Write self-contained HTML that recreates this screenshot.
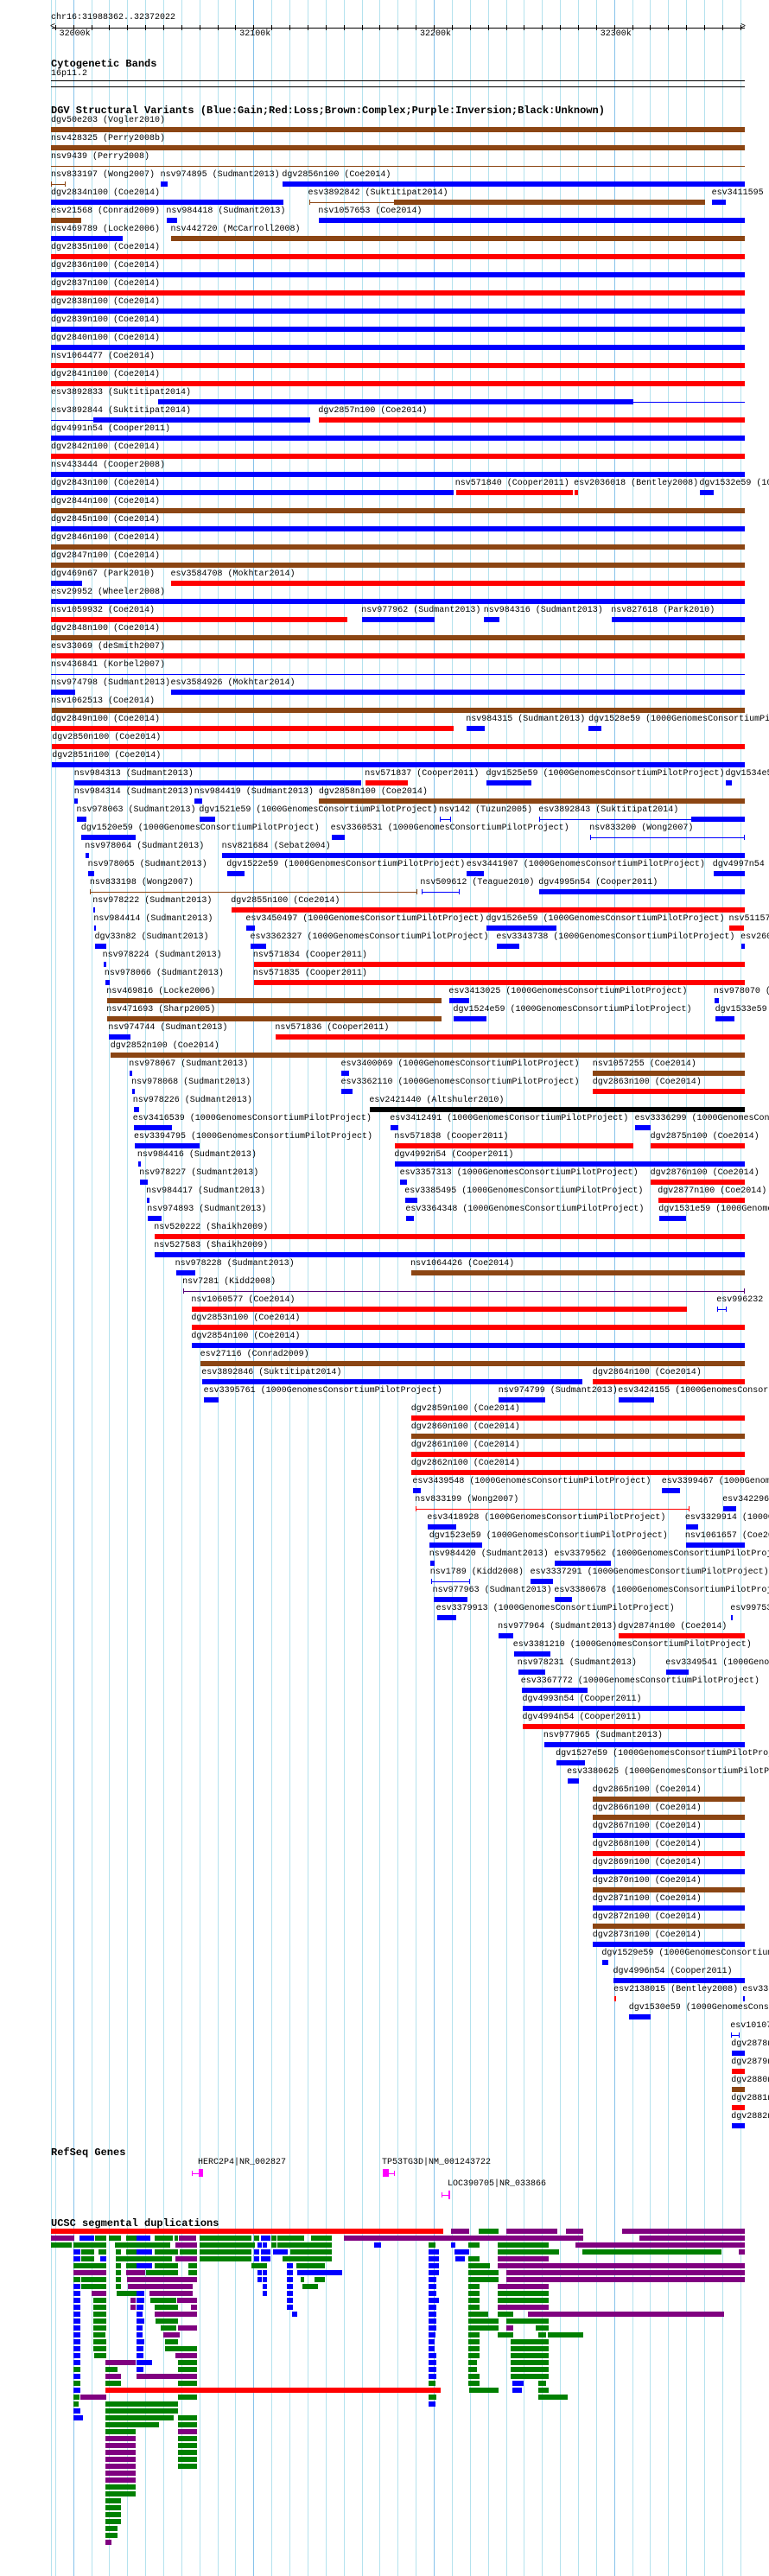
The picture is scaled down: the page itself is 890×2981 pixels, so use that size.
<!DOCTYPE html>
<html><head><meta charset="utf-8">
<style>
html,body{margin:0;padding:0;background:#fff;overflow:hidden;width:890px;height:2981px;}
body{font-family:"Liberation Mono","DejaVu Sans Mono",monospace;color:#000;}
#root{position:relative;width:890px;height:2981px;overflow:hidden;}
.g{position:absolute;top:0;width:1px;height:2981px;background:#b4e2ee;}
.gm{background:#86c2ea;}
.t{position:absolute;font-size:10px;line-height:12px;white-space:nowrap;}
.h{position:absolute;font-size:12px;line-height:14px;font-weight:bold;white-space:nowrap;}
.b{position:absolute;height:6px;}
.l{position:absolute;height:1px;}
.k{position:absolute;width:1px;height:6px;}
</style></head>
<body>
<div id="root"></div>
<script>
var S=890/1568, H='';
function d(cls,x,y,w,h,c,txt){H+='<div class="'+cls+'" style="left:'+x.toFixed(1)+'px;top:'+y.toFixed(1)+'px;'+(w!=null?'width:'+w.toFixed(1)+'px;':'')+(h!=null?'height:'+h+'px;':'')+(c?'background:'+c+';':'')+'">'+(txt||'')+'</div>';}
d('g',59,0,null,null,null);
for(var k=-1;k<=37;k++){var x=84.6+20.87*k;if(x<60||x>863)continue;H+='<div class="g'+(k%10==0?' gm':'')+'" style="left:'+x.toFixed(1)+'px"></div>';}
d('t',59,15,null,null,null,'chr16:31988362..32372022');
d('l',60,32,802,null,'#000');
H+='<div class="t" style="left:58px;top:26px">&lt;</div><div class="t" style="left:857px;top:26px">&gt;</div>';
for(var k=-1;k<=37;k++){var x=84.6+20.87*k;if(x<62||x>860)continue;d('k',x,29,null,null,'#000');}
['32000k','32100k','32200k','32300k'].forEach(function(s,i){d('t',84.6+208.7*i-16,34,null,null,null,s);});
d('h',59,67,null,null,null,'Cytogenetic Bands');
d('t',59,80,null,null,null,'16p11.2');
d('l',59,93,803,null,'#000');d('l',59,100,803,null,'#000');
d('h',59,121,null,null,null,'DGV Structural Variants (Blue:Gain;Red:Loss;Brown:Complex;Purple:Inversion;Black:Unknown)');
var C={B:'#0000ff',R:'#ff0000',N:'#8b4513',K:'#000000',P:'#550077'};
var G='1000GenomesConsortiumPilotProject';
var D=[
[0,104,"dgv50e203 (Vogler2010)","N",104,1519],
[1,104,"nsv428325 (Perry2008b)","N",104,1519],
[2,104,"nsv9439 (Perry2008)","N",104,1519,"l"],
[3,104,"nsv833197 (Wong2007)","N",104,134,"t"],[3,327,"nsv974895 (Sudmant2013)","B",328,342],[3,575,"dgv2856n100 (Coe2014)","B",576,1519],
[4,104,"dgv2834n100 (Coe2014)","B",104,578],[4,628,"esv3892842 (Suktitipat2014)","N",630,805,"t"],[4,0,"","N",805,1438],[4,1451,"esv3411595","B",1452,1480],
[5,104,"esv21568 (Conrad2009)","N",104,166],[5,339,"nsv984418 (Sudmant2013)","B",340,361],[5,649,"nsv1057653 (Coe2014)","B",650,1519],
[6,104,"nsv469789 (Locke2006)","B",104,250],[6,348,"nsv442720 (McCarroll2008)","N",349,1519],
[7,104,"dgv2835n100 (Coe2014)","R",104,1519],
[8,104,"dgv2836n100 (Coe2014)","B",104,1519],
[9,104,"dgv2837n100 (Coe2014)","R",104,1519],
[10,104,"dgv2838n100 (Coe2014)","B",104,1519],
[11,104,"dgv2839n100 (Coe2014)","B",104,1519],
[12,104,"dgv2840n100 (Coe2014)","B",104,1519],
[13,104,"nsv1064477 (Coe2014)","R",104,1519],
[14,104,"dgv2841n100 (Coe2014)","R",104,1519],
[15,104,"esv3892833 (Suktitipat2014)","B",322,1519,"l"],[15,0,"","B",322,1291],
[16,104,"esv3892844 (Suktitipat2014)","B",104,190,"l"],[16,0,"","B",190,632],[16,649,"dgv2857n100 (Coe2014)","R",650,1519],
[17,104,"dgv4991n54 (Cooper2011)","B",104,1519],
[18,104,"dgv2842n100 (Coe2014)","R",104,1519],
[19,104,"nsv433444 (Cooper2008)","B",104,1519],
[20,104,"dgv2843n100 (Coe2014)","B",104,925],[20,928,"nsv571840 (Cooper2011)","R",930,1168],[20,1170,"esv2036018 (Bentley2008)","R",1172,1178],[20,1426,"dgv1532e59 (G)","B",1427,1455],
[21,104,"dgv2844n100 (Coe2014)","N",104,1519],
[22,104,"dgv2845n100 (Coe2014)","B",104,1519],
[23,104,"dgv2846n100 (Coe2014)","N",104,1519],
[24,104,"dgv2847n100 (Coe2014)","N",104,1519],
[25,104,"dgv469n67 (Park2010)","B",104,167],[25,348,"esv3584708 (Mokhtar2014)","R",349,1519],
[26,104,"esv29952 (Wheeler2008)","B",104,1519],
[27,104,"nsv1059932 (Coe2014)","R",104,708],[27,737,"nsv977962 (Sudmant2013)","B",738,886],[27,986,"nsv984316 (Sudmant2013)","B",987,1018],[27,1246,"nsv827618 (Park2010)","B",1247,1519],
[28,104,"dgv2848n100 (Coe2014)","N",104,1519],
[29,104,"esv33069 (deSmith2007)","R",104,1519],
[30,104,"nsv436841 (Korbel2007)","B",104,1519,"l"],
[31,104,"nsv974798 (Sudmant2013)","B",104,153],[31,348,"esv3584926 (Mokhtar2014)","B",349,1519],
[32,104,"nsv1062513 (Coe2014)","N",106,1519],
[33,104,"dgv2849n100 (Coe2014)","R",104,925],[33,950,"nsv984315 (Sudmant2013)","B",951,988],[33,1200,"dgv1528e59 (G)","B",1200,1226],
[34,106,"dgv2850n100 (Coe2014)","R",106,1519],
[35,106,"dgv2851n100 (Coe2014)","B",106,1519],
[36,151,"nsv984313 (Sudmant2013)","B",151,736],[36,744,"nsv571837 (Cooper2011)","R",745,832],[36,991,"dgv1525e59 (G)","B",992,1084],[36,1479,"dgv1534e59 (G)","B",1480,1492],
[37,151,"nsv984314 (Sudmant2013)","B",152,158],[37,396,"nsv984419 (Sudmant2013)","B",396,412],[37,650,"dgv2858n100 (Coe2014)","N",650,1519],
[38,156,"nsv978063 (Sudmant2013)","B",156,176],[38,406,"dgv1521e59 (G)","B",407,439],[38,895,"nsv142 (Tuzun2005)","B",896,920,"t"],[38,1098,"esv3892843 (Suktitipat2014)","B",1100,1411,"t"],[38,0,"","B",1411,1519],
[39,165,"dgv1520e59 (G)","B",166,277],[39,674,"esv3360531 (G)","B",676,703],[39,1202,"nsv833200 (Wong2007)","B",1204,1519,"t"],
[40,173,"nsv978064 (Sudmant2013)","B",175,181],[40,452,"nsv821684 (Sebat2004)","B",453,1519],
[41,179,"nsv978065 (Sudmant2013)","B",180,192],[41,462,"dgv1522e59 (G)","B",463,499],[41,951,"esv3441907 (G)","B",951,986],[41,1453,"dgv4997n54 (Cooper2011)","B",1455,1519],
[42,183,"nsv833198 (Wong2007)","N",184,850,"t"],[42,857,"nsv509612 (Teague2010)","B",859,938,"t"],[42,1098,"dgv4995n54 (Cooper2011)","B",1099,1519],
[43,189,"nsv978222 (Sudmant2013)","B",190,194],[43,471,"dgv2855n100 (Coe2014)","R",472,1519],
[44,191,"nsv984414 (Sudmant2013)","B",192,195],[44,501,"esv3450497 (G)","B",502,520],[44,991,"dgv1526e59 (G)","B",992,1135],[44,1486,"nsv511575 (Itsara2009)","R",1487,1517],
[45,193,"dgv33n82 (Sudmant2013)","B",194,217],[45,510,"esv3362327 (G)","B",511,543],[45,1012,"esv3343738 (G)","B",1013,1058],[45,1510,"esv2601","B",1512,1519],
[46,209,"nsv978224 (Sudmant2013)","B",211,216],[46,516,"nsv571834 (Cooper2011)","R",517,1519],
[47,213,"nsv978066 (Sudmant2013)","B",215,223],[47,516,"nsv571835 (Cooper2011)","R",517,1519],
[48,217,"nsv469816 (Locke2006)","N",218,900],[48,915,"esv3413025 (G)","B",916,957],[48,1455,"nsv978070 (Sudmant2013)","B",1457,1466],
[49,217,"nsv471693 (Sharp2005)","N",218,900],[49,924,"dgv1524e59 (G)","B",925,992],[49,1458,"dgv1533e59 (G)","B",1459,1498],
[50,221,"nsv974744 (Sudmant2013)","B",222,266],[50,561,"nsv571836 (Cooper2011)","R",562,1519],
[51,225,"dgv2852n100 (Coe2014)","N",226,1519],
[52,263,"nsv978067 (Sudmant2013)","B",264,270],[52,695,"esv3400069 (G)","B",696,712],[52,1208,"nsv1057255 (Coe2014)","N",1209,1519],
[53,268,"nsv978068 (Sudmant2013)","B",270,274],[53,695,"esv3362110 (G)","B",696,719],[53,1208,"dgv2863n100 (Coe2014)","R",1209,1519],
[54,271,"nsv978226 (Sudmant2013)","B",273,284],[54,753,"esv2421440 (Altshuler2010)","K",754,1519],
[55,271,"esv3416539 (G)","B",273,351],[55,795,"esv3412491 (G)","B",796,812],[55,1294,"esv3336299 (G)","B",1295,1327],
[56,273,"esv3394795 (G)","B",275,407],[56,804,"nsv571838 (Cooper2011)","R",805,1291],[56,1326,"dgv2875n100 (Coe2014)","R",1327,1519],
[57,280,"nsv984416 (Sudmant2013)","B",282,287],[57,804,"dgv4992n54 (Cooper2011)","B",805,1519],
[58,284,"nsv978227 (Sudmant2013)","B",285,301],[58,815,"esv3357313 (G)","B",816,830],[58,1326,"dgv2876n100 (Coe2014)","R",1327,1519],
[59,298,"nsv984417 (Sudmant2013)","B",300,304],[59,825,"esv3385495 (G)","B",826,851],[59,1341,"dgv2877n100 (Coe2014)","R",1342,1519],
[60,300,"nsv974893 (Sudmant2013)","B",301,329],[60,827,"esv3364348 (G)","B",828,844],[60,1343,"dgv1531e59 (G)","B",1344,1399],
[61,314,"nsv520222 (Shaikh2009)","R",315,1519],
[62,314,"nsv527583 (Shaikh2009)","B",315,1519],
[63,357,"nsv978228 (Sudmant2013)","B",359,398],[63,837,"nsv1064426 (Coe2014)","N",839,1519],
[64,372,"nsv7281 (Kidd2008)","P",374,1519,"t"],
[65,390,"nsv1060577 (Coe2014)","R",391,1401],[65,1461,"esv996232","B",1462,1481,"t"],
[66,390,"dgv2853n100 (Coe2014)","R",391,1519],
[67,390,"dgv2854n100 (Coe2014)","B",391,1519],
[68,408,"esv27116 (Conrad2009)","N",409,1519],
[69,411,"esv3892846 (Suktitipat2014)","B",412,1187],[69,1208,"dgv2864n100 (Coe2014)","R",1209,1519],
[70,415,"esv3395761 (G)","B",416,446],[70,1016,"nsv974799 (Sudmant2013)","B",1017,1112],[70,1260,"esv3424155 (G)","B",1261,1334],
[71,838,"dgv2859n100 (Coe2014)","R",839,1519],
[72,838,"dgv2860n100 (Coe2014)","N",839,1519],
[73,838,"dgv2861n100 (Coe2014)","R",839,1519],
[74,838,"dgv2862n100 (Coe2014)","R",839,1519],
[75,841,"esv3439548 (G)","B",842,858],[75,1349,"esv3399467 (G)","B",1350,1387],
[76,846,"nsv833199 (Wong2007)","R",848,1406,"t"],[76,1473,"esv3422962","B",1475,1501],
[77,871,"esv3418928 (G)","B",872,930],[77,1397,"esv3329914 (G)","B",1398,1424],
[78,875,"dgv1523e59 (G)","B",876,983],[78,1397,"nsv1061657 (Coe2014)","B",1399,1519],
[79,875,"nsv984420 (Sudmant2013)","B",877,886],[79,1130,"esv3379562 (G)","B",1131,1246],
[80,877,"nsv1789 (Kidd2008)","B",879,959,"t"],[80,1081,"esv3337291 (G)","B",1082,1128],
[81,882,"nsv977963 (Sudmant2013)","B",884,953],[81,1130,"esv3380678 (G)","B",1131,1166],
[82,889,"esv3379913 (G)","B",891,930],[82,1489,"esv997532","B",1490,1494],
[83,1015,"nsv977964 (Sudmant2013)","B",1017,1047],[83,1260,"dgv2874n100 (Coe2014)","R",1261,1519],
[84,1046,"esv3381210 (G)","B",1048,1122],
[85,1055,"nsv978231 (Sudmant2013)","B",1057,1112],[85,1357,"esv3349541 (G)","B",1358,1404],
[86,1062,"esv3367772 (G)","B",1064,1198],
[87,1065,"dgv4993n54 (Cooper2011)","B",1066,1519],
[88,1065,"dgv4994n54 (Cooper2011)","R",1066,1519],
[89,1108,"nsv977965 (Sudmant2013)","B",1110,1519],
[90,1133,"dgv1527e59 (G)","B",1135,1193],
[91,1156,"esv3380625 (G)","B",1158,1180],
[92,1208,"dgv2865n100 (Coe2014)","N",1209,1519],
[93,1208,"dgv2866n100 (Coe2014)","N",1209,1519],
[94,1208,"dgv2867n100 (Coe2014)","B",1209,1519],
[95,1208,"dgv2868n100 (Coe2014)","R",1209,1519],
[96,1208,"dgv2869n100 (Coe2014)","B",1209,1519],
[97,1208,"dgv2870n100 (Coe2014)","N",1209,1519],
[98,1208,"dgv2871n100 (Coe2014)","B",1209,1519],
[99,1208,"dgv2872n100 (Coe2014)","N",1209,1519],
[100,1208,"dgv2873n100 (Coe2014)","B",1209,1519],
[101,1227,"dgv1529e59 (G)","B",1228,1240],
[102,1250,"dgv4996n54 (Cooper2011)","B",1251,1519],
[103,1251,"esv2138015 (Bentley2008)","R",1252,1256],[103,1514,"esv3379","B",1515,1519],
[104,1282,"dgv1530e59 (G)","B",1283,1327],
[105,1489,"esv1010754","B",1490,1508,"t"],
[106,1491,"dgv2878n100","B",1492,1519],
[107,1491,"dgv2879n100","R",1492,1519],
[108,1491,"dgv2880n100","N",1492,1519],
[109,1491,"dgv2881n100","R",1492,1519],
[110,1491,"dgv2882n100","B",1492,1519]
];
D.forEach(function(e){
  var r=e[0],cy=140+21*r,c=C[e[3]],x1=e[4]*S,x2=e[5]*S,st=e[6]||'b';
  if(e[2])d('t',e[1]*S,cy-6,null,null,null,e[2].replace('(G)','('+G+')'));
  if(st=='b')d('b',x1,cy+7,Math.max(1,x2-x1),null,c);
  else{d('l',x1,cy+10,Math.max(1,x2-x1),null,c);if(st=='t'){d('k',x1,cy+7,null,null,c);d('k',x2-1,cy+7,null,null,c);}}
});
d('h',59,2484,null,null,null,'RefSeq Genes');
d('t',229,2497,null,null,null,'HERC2P4|NR_002827');
d('t',442,2497,null,null,null,'TP53TG3D|NM_001243722');
d('t',518,2522,null,null,null,'LOC390705|NR_033866');
var M='#ff00ff';
d('l',222,2515,8,null,M);d('k',222,2512,null,null,M);H+='<div style="position:absolute;left:230px;top:2510px;width:5px;height:9px;background:'+M+'"></div>';
H+='<div style="position:absolute;left:443px;top:2510px;width:7px;height:9px;background:'+M+'"></div>';d('l',450,2515,7,null,M);d('k',456,2512,null,null,M);
d('l',511,2540,10,null,M);d('k',511,2537,null,null,M);H+='<div style="position:absolute;left:519px;top:2535px;width:2px;height:10px;background:'+M+'"></div>';
d('h',59,2566,null,null,null,'UCSC segmental duplications');
var SC={r:'#ff0000',p:'#800080',g:'#008000',b:'#0000ff'};
var SD=[
"r104-904 p920-957 g976-1017 p1032-1136 p1154-1189 p1268-1519",
"p104-152 b162-192 g194-217 g222-247 g257-278 b278-307 g315-352 g356-363 p365-400 g407-513 g517-529 b532-551 g553-564 g566-620 g635-677 p701-1189 p1304-1519",
"g104-146 g150-217 g234-347 p358-402 g407-507 g507-519 b525-533 b536-544 g553-564 g566-677 b763-777 g874-888 b920-928 g955-978 g1015-1119 p1173-1519",
"b150-164 g166-192 g201-217 g236-247 g257-278 b278-310 g315-363 g366-402 g407-513 b517-529 b532-551 b557-587 g592-677 b874-895 b927-957 g1015-1140 g1187-1471 p1506-1519",
"b150-164 g166-192 b204-217 g236-278 g278-351 p358-402 g407-513 b517-529 b532-551 g576-677 b874-895 b928-948 g955-978 p1015-1119",
"g150-217 g236-247 g257-278 b278-310 g315-363 g384-402 g513-544 b585-597 g604-662 b874-895 g955-999 p1015-1519",
"p150-217 g236-247 p257-296 g298-363 g384-402 b525-533 b536-544 b585-597 b606-698 b874-895 g955-1017 p1032-1519",
"g150-164 g166-217 g236-247 p259-402 b525-533 b536-544 b585-597 g613-620 g641-662 b874-890 g955-1017 p1032-1519",
"b150-164 g166-217 g236-247 p261-393 b536-544 b585-597 g617-648 b874-890 g955-978 p1015-1119",
"b150-164 p187-217 g238-278 b278-294 p305-393 b536-544 b585-597 b874-890 g955-978 g1015-1119",
"b150-164 g190-217 p266-277 b278-294 g307-359 p361-402 b585-597 b874-895 g955-978 g1015-1119",
"b150-164 g190-217 p266-277 b278-292 g315-363 p389-402 b585-597 b874-890 g955-978 p1015-1119",
"b150-164 g190-217 b278-291 p315-402 b595-606 b874-890 g955-995 g1015-1047 p1076-1476",
"b150-164 g190-217 b278-294 g317-363 b874-890 g955-1017 g1032-1119",
"b150-164 g190-217 b278-291 g328-359 p363-402 b874-890 g955-1017 p1032-1047 g1092-1119",
"b150-164 g190-215 b278-291 p333-366 b874-888 g955-978 g1015-1047 g1097-1113 g1117-1189",
"b150-164 g190-217 b278-294 g337-363 b874-886 g955-978 g1041-1119",
"b150-164 g190-217 b278-292 g337-402 b874-886 g955-978 g1041-1119",
"b150-164 g192-217 b278-292 p358-402 b874-890 g955-978 g1041-1119",
"b150-164 p215-277 b278-310 g363-402 b874-890 g955-973 g1041-1119",
"g150-164 g215-240 b278-292 g363-402 b874-890 g955-973 g1041-1119",
"b150-164 p215-247 p278-402 b874-890 g955-978 g1041-1119",
"g150-164 g215-247 g363-402 g874-888 g955-978 b1045-1068 g1097-1113",
"b150-164 r215-899 g957-1017 b1045-1064 g1097-1119",
"g150-162 p164-217 g363-402 g874-890 g1097-1158",
"g150-160 g215-363 b874-888",
"b150-164 g215-363",
"b150-169 g215-354 g363-402",
"g215-324 g363-402",
"g215-277 p363-402",
"p215-277 g363-402","p215-277 g363-402","p215-277 g363-402","p215-277 g363-402","p215-277 g363-402",
"p215-277","p215-277","g215-277","g215-277",
"g215-247","g215-247","g215-247","g215-247","g215-240","g215-240","p215-227"
];
SD.forEach(function(row,i){
  var y=2579+8*i;
  row.split(' ').forEach(function(s){var c=SC[s[0]],p=s.slice(1).split('-');var a=+p[0]*S,b=+p[1]*S;d('b',a,y,Math.max(1,b-a),null,c);});
});
document.getElementById('root').innerHTML=H;
</script>
</body></html>
